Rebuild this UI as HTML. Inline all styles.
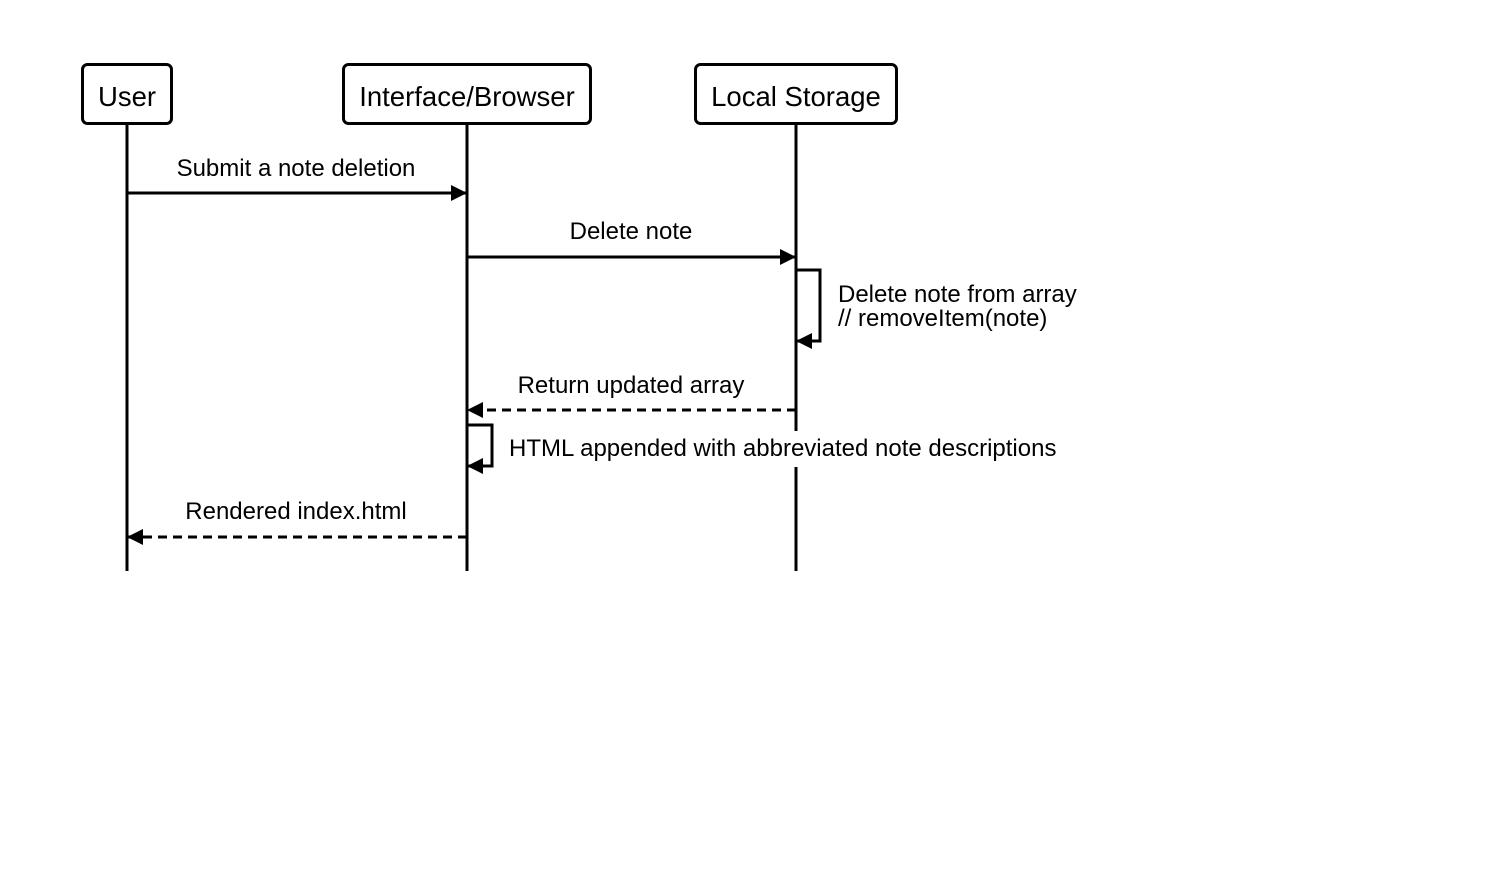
<!DOCTYPE html>
<html><head><meta charset="utf-8"><style>
html,body{margin:0;padding:0;background:#fff}
svg{display:block}
text{font-family:"Liberation Sans",Arial,sans-serif;fill:#000}
</style></head><body>
<svg width="1498" height="890" viewBox="0 0 1498 890" xmlns="http://www.w3.org/2000/svg">
<defs>
<marker id="a" markerWidth="16" markerHeight="16" refX="16" refY="8" orient="auto" markerUnits="userSpaceOnUse">
<path d="M0,0 L16,8 L0,16 Z" fill="#000"/>
</marker>
</defs>
<g stroke="#000" stroke-width="3" fill="none">
<line x1="127" y1="124" x2="127" y2="571"/>
<line x1="467" y1="124" x2="467" y2="571"/>
<line x1="796" y1="124" x2="796" y2="571"/>
<rect x="82.5" y="64.5" width="89" height="59" rx="5" fill="#fff"/>
<rect x="343.5" y="64.5" width="247" height="59" rx="5" fill="#fff"/>
<rect x="695.5" y="64.5" width="201" height="59" rx="5" fill="#fff"/>
<line x1="127" y1="193" x2="467" y2="193" marker-end="url(#a)"/>
<line x1="467" y1="257" x2="796" y2="257" marker-end="url(#a)"/>
<polyline points="796,270 820,270 820,341 796,341" marker-end="url(#a)"/>
<line x1="796" y1="410" x2="467" y2="410" stroke-dasharray="9,6" marker-end="url(#a)"/>
<polyline points="467,425 492,425 492,466 467,466" marker-end="url(#a)"/>
<line x1="467" y1="537" x2="127" y2="537" stroke-dasharray="9,6" marker-end="url(#a)"/>
</g>
<rect x="505" y="431" width="562" height="36" fill="#fff"/>
<g font-size="27.5" text-anchor="middle">
<text x="127" y="106">User</text>
<text x="467" y="106">Interface/Browser</text>
<text x="796" y="106">Local Storage</text>
</g>
<g font-size="24">
<text x="296" y="176" text-anchor="middle">Submit a note deletion</text>
<text x="631" y="239" text-anchor="middle">Delete note</text>
<text x="838" y="302">Delete note from array</text>
<text x="838" y="326">// removeItem(note)</text>
<text x="631" y="393" text-anchor="middle">Return updated array</text>
<text x="509" y="456">HTML appended with abbreviated note descriptions</text>
<text x="296" y="519" text-anchor="middle">Rendered index.html</text>
</g>
</svg>
</body></html>
